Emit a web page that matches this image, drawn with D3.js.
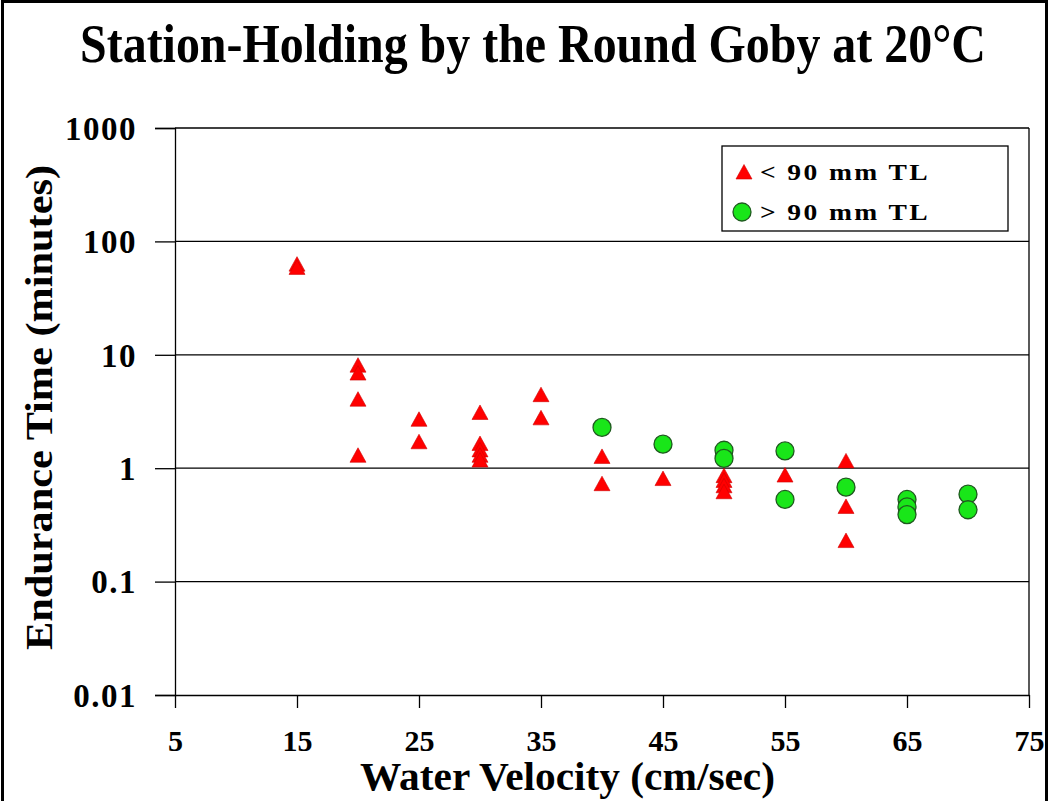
<!DOCTYPE html>
<html>
<head>
<meta charset="utf-8">
<script src="https://cdn.jsdelivr.net/npm/d3@7"></script>
<style>
  html, body { margin: 0; padding: 0; background: #fff; }
  svg { display: block; }
  text { font-family: "Liberation Serif", "Times New Roman", serif; font-weight: bold; fill: #000; }
</style>
</head>
<body>
<svg id="chart" width="1050" height="801"></svg>
<script>
// ---- data ----
const titleText = "Station-Holding by the Round Goby at 20\u00B0C";
const xAxisTitle = "Water Velocity (cm/sec)";
const yAxisTitle = "Endurance Time (minutes)";
const xTicks = [5, 15, 25, 35, 45, 55, 65, 75];
const yTicks = [0.01, 0.1, 1, 10, 100, 1000];
const yTickLabels = ["0.01", "0.1", "1", "10", "100", "1000"];
const seriesNames = ["< 90 mm TL", "> 90 mm TL"];

const smallVelocity = [15, 15, 20, 20, 20, 20, 25, 25, 30, 30, 30, 30, 30, 35, 35, 40, 40, 45, 50, 50, 50, 50, 55, 60, 60, 60];
const smallTime     = [63, 59, 8.1, 6.9, 4.06, 1.3, 2.7, 1.71, 3.1, 1.65, 1.45, 1.3, 1.18, 4.45, 2.78, 1.27, 0.73, 0.81, 0.86, 0.78, 0.70, 0.62, 0.87, 1.16, 0.46, 0.23];

const largeVelocity = [40, 45, 50, 50, 55, 55, 60, 65, 65, 65, 70, 70];
const largeTime     = [2.29, 1.63, 1.44, 1.22, 1.42, 0.53, 0.68, 0.53, 0.456, 0.39, 0.59, 0.43];

// ---- layout ----
const svg = d3.select("#chart");
const plotLeft = 175, plotRight = 1029, plotTop = 128, plotBottom = 695;

const x = d3.scaleLinear().domain([5, 75]).range([plotLeft, plotRight]);
const y = d3.scaleLog().domain([0.01, 1000]).range([plotBottom, plotTop]);

// outer frame
svg.append("rect").attr("x", 2.5).attr("y", 1.5).attr("width", 1044).attr("height", 840)
  .attr("fill", "none").attr("stroke", "#000").attr("stroke-width", 3);

// title (condensed horizontally to the reference width)
const tg = svg.append("g");
const tt = tg.append("text").attr("x", 0).attr("y", 0).attr("font-size", 54)
  .attr("text-anchor", "middle").text(titleText);
const natW = tt.node().getComputedTextLength();
tg.attr("transform", `translate(533,62) scale(${906 / natW},1)`);

// gridlines
svg.append("g").selectAll("line").data(yTicks.filter(d => d > 0.01)).join("line")
  .attr("x1", plotLeft).attr("x2", plotRight)
  .attr("y1", d => y(d)).attr("y2", d => y(d))
  .attr("stroke", "#000").attr("stroke-width", 1.3);

// plot right border
svg.append("line").attr("x1", plotRight).attr("x2", plotRight).attr("y1", plotTop).attr("y2", plotBottom)
  .attr("stroke", "#000").attr("stroke-width", 1.3);

// y axis
const yAxis = d3.axisLeft(y).tickValues(yTicks)
  .tickFormat((d, i) => yTickLabels[i]).tickSize(20).tickPadding(18);
const gy = svg.append("g").attr("transform", `translate(${plotLeft},0)`).call(yAxis);
gy.select(".domain").attr("stroke", "#000").attr("stroke-width", 1.3);
gy.selectAll(".tick line").attr("stroke", "#000").attr("stroke-width", 1.3);
gy.selectAll(".tick text")
  .attr("font-family", "Liberation Serif, serif").attr("font-weight", "bold")
  .attr("font-size", 33).attr("letter-spacing", "1.5px").attr("fill", "#000")
  .attr("dy", "0.34em");

// x axis
const xAxis = d3.axisBottom(x).tickValues(xTicks).tickFormat(d3.format("d"))
  .tickSize(13).tickPadding(22).tickSizeOuter(0);
const gx = svg.append("g").attr("transform", `translate(0,${plotBottom})`).call(xAxis);
gx.select(".domain").attr("stroke", "#000").attr("stroke-width", 1.3);
gx.selectAll(".tick line").attr("stroke", "#000").attr("stroke-width", 1.3);
gx.selectAll(".tick text")
  .attr("font-family", "Liberation Serif, serif").attr("font-weight", "bold")
  .attr("font-size", 30).attr("fill", "#000");

// axis titles
svg.append("text").attr("x", 360).attr("y", 790).attr("font-size", 40)
  .attr("textLength", 415).attr("lengthAdjust", "spacingAndGlyphs")
  .text(xAxisTitle);

svg.append("text").attr("transform", "translate(52,650) rotate(-90)")
  .attr("font-size", 37)
  .attr("textLength", 485).attr("lengthAdjust", "spacingAndGlyphs")
  .text(yAxisTitle);

// markers
const triPath = "M0,-7.5L8,7L-8,7Z";
const smallData = smallVelocity.map((v, i) => ({ v, t: smallTime[i] }));
const largeData = largeVelocity.map((v, i) => ({ v, t: largeTime[i] }));

svg.append("g").selectAll("path").data(smallData).join("path")
  .attr("d", triPath)
  .attr("transform", d => `translate(${x(d.v)},${y(d.t)})`)
  .attr("fill", "#ff0000").attr("stroke", "#d00000").attr("stroke-width", 0.6);

svg.append("g").selectAll("circle").data(largeData).join("circle")
  .attr("cx", d => x(d.v)).attr("cy", d => y(d.t)).attr("r", 9)
  .attr("fill", "#19e619").attr("stroke", "#1f5a1f").attr("stroke-width", 1.3);

// legend
const lg = svg.append("g");
lg.append("rect").attr("x", 722).attr("y", 146).attr("width", 286).attr("height", 85)
  .attr("fill", "#fff").attr("stroke", "#000").attr("stroke-width", 1.3);
lg.append("path").attr("d", triPath).attr("transform", "translate(744,172)")
  .attr("fill", "#ff0000").attr("stroke", "#d00000").attr("stroke-width", 0.6);
lg.append("circle").attr("cx", 742).attr("cy", 212).attr("r", 9)
  .attr("fill", "#19e619").attr("stroke", "#1f5a1f").attr("stroke-width", 1.3);
lg.selectAll("text.leg").data(seriesNames).join("text").attr("class", "leg")
  .attr("x", 760).attr("y", (d, i) => 180 + i * 40)
  .attr("font-size", 23).attr("letter-spacing", "2px")
  .attr("textLength", 170).attr("lengthAdjust", "spacingAndGlyphs")
  .text(d => d);
</script>
</body>
</html>
